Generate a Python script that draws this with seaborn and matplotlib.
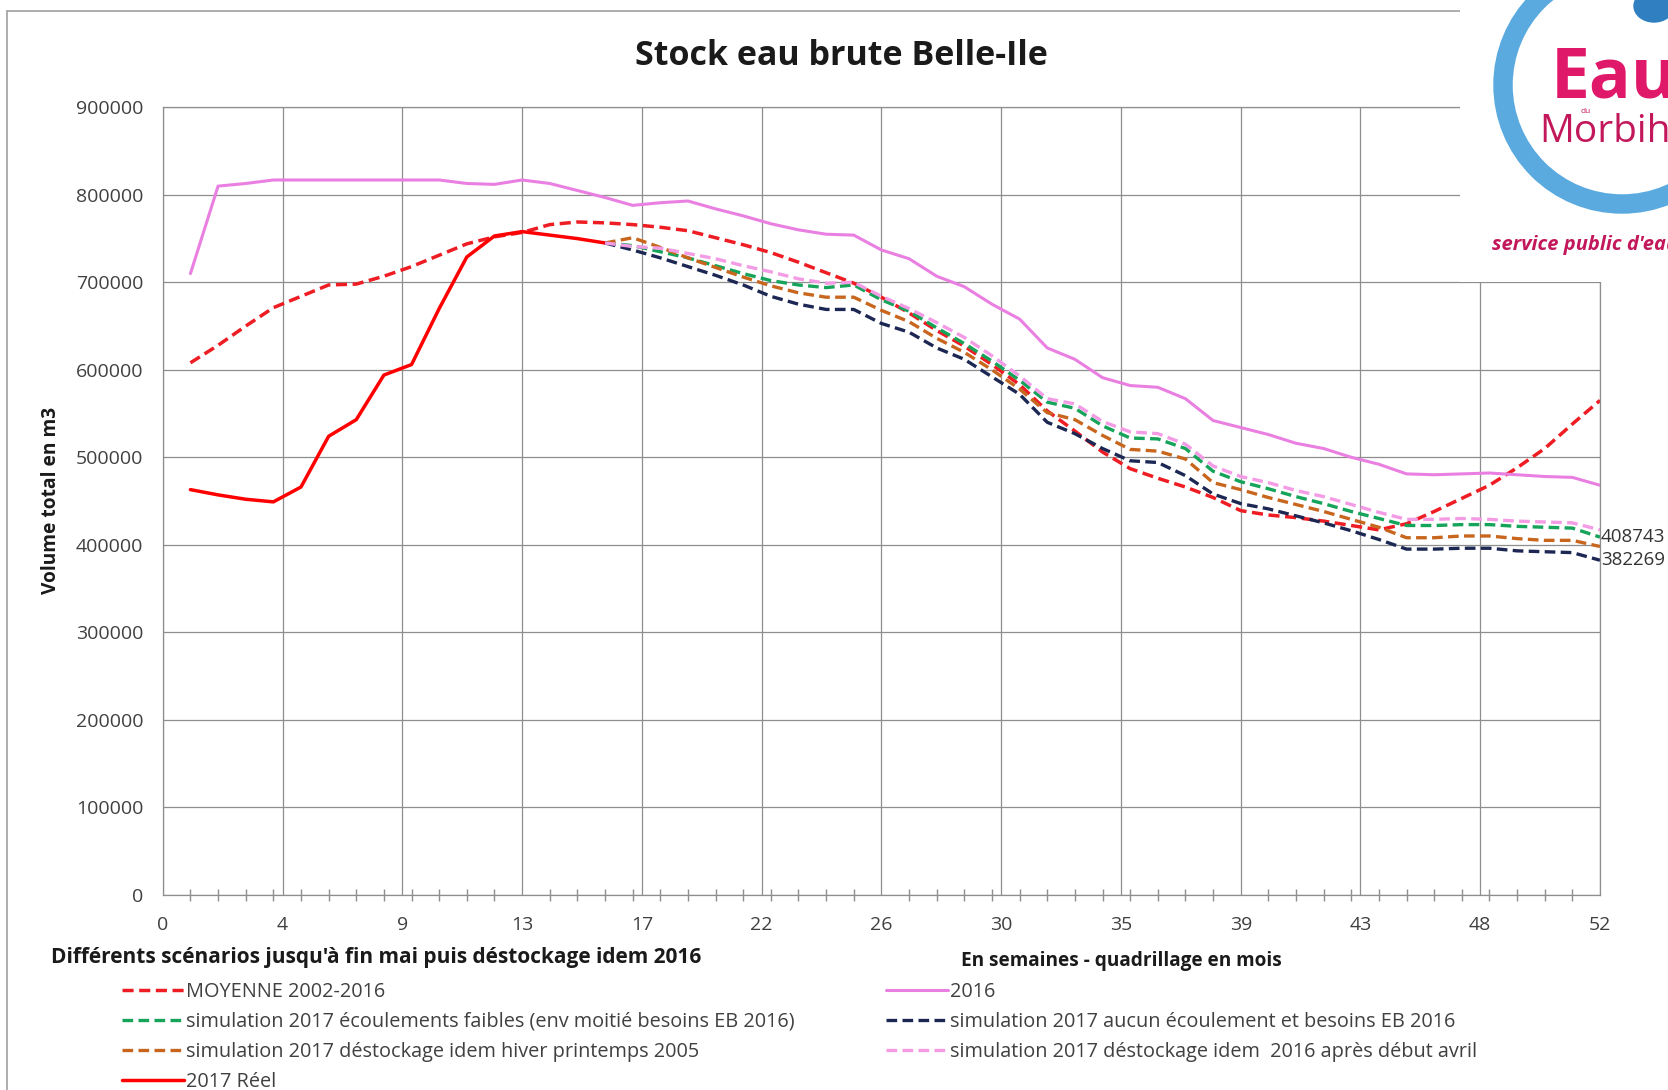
import numpy as np
import seaborn as sns
import matplotlib.pyplot as plt
from matplotlib.patches import Circle, Ellipse, Rectangle
from matplotlib.lines import Line2D
from matplotlib.ticker import FixedLocator, MultipleLocator, FuncFormatter

# volumes en milliers de m3
semaines = np.arange(1, 53)
moyenne_2002_2016 = [608, 628, 650, 671, 684, 697, 698, 707, 718, 731,
                     744, 752, 757, 766, 769, 768, 766, 763, 759, 751,
                     743, 734, 723, 711, 699, 683, 665, 645, 627, 606,
                     583, 553, 530, 506, 487, 476, 466, 454, 439, 434,
                     431, 427, 422, 417, 424, 438, 453, 468, 488, 510,
                     538, 565]
stock_2016 = [710, 810, 813, 817, 817, 817, 817, 817, 817, 817,
              813, 812, 817, 813, 805, 797, 788, 791, 793, 784,
              776, 767, 760, 755, 754, 737, 727, 707, 695, 675,
              658, 625, 612, 591, 582, 580, 567, 542, 534, 526,
              516, 510, 500, 492, 481, 480, 481, 482, 480, 478,
              477, 468]

semaines_reel = np.arange(1, 17)
reel_2017 = [463, 457, 452, 449, 466, 524, 543, 594, 606, 670,
             729, 753, 758, 754, 750, 745]

semaines_sim = np.arange(16, 53)
sim_faibles = [745, 742, 735, 728, 719, 710, 702, 697, 694, 697,
               680, 667, 648, 630, 610, 588, 563, 556, 536, 522,
               521, 510, 484, 472, 464, 455, 447, 438, 430, 422,
               422, 423, 423, 421, 420, 419, 408.743]
sim_aucun = [745, 737, 728, 718, 708, 697, 684, 675, 669, 669,
             653, 643, 625, 612, 592, 572, 540, 527, 510, 496,
             494, 479, 458, 447, 441, 433, 425, 416, 406, 395,
             395, 396, 396, 393, 392, 391, 382.269]
sim_2005 = [745, 751, 740, 728, 717, 706, 696, 688, 683, 683,
            668, 655, 636, 620, 600, 578, 551, 543, 525, 509,
            507, 498, 471, 463, 454, 446, 438, 429, 420, 408,
            408, 410, 410, 407, 405, 405, 398]
sim_idem_2016 = [745, 741, 739, 733, 727, 719, 712, 704, 699, 700,
                 684, 670, 654, 637, 616, 593, 567, 561, 541, 529,
                 527, 515, 490, 478, 471, 462, 455, 446, 437, 429,
                 429, 430, 429, 427, 426, 425, 417]

# quadrillage en mois
mois_ticks = [52 * k / 12 for k in range(13)]
mois_labels = [str(int(round(t))) for t in mois_ticks]

sns.set_style('white')
plt.rcParams['font.family'] = ['Open Sans', 'DejaVu Sans']

W, H = 1668, 1090
fig = plt.figure(figsize=(W / 100, H / 100), dpi=100)
fig.patch.set_facecolor('white')
ax = fig.add_axes([162.8 / W, 1 - 894.6 / H, (1600 - 162.8) / W, (894.6 - 107.4) / H])

dash = (0, (3.2, 1.6))
series = [
    (semaines, moyenne_2002_2016, 'MOYENNE 2002-2016', '#EE1D23', dash, 2.5),
    (semaines_sim, sim_faibles, 'simulation 2017 écoulements faibles (env moitié besoins EB 2016)', '#16A35A', dash, 2.4),
    (semaines_sim, sim_2005, 'simulation 2017 déstockage idem hiver printemps 2005', '#C8661E', dash, 2.4),
    (semaines_reel, reel_2017, '2017 Réel', '#FF0000', '-', 2.5),
    (semaines, stock_2016, '2016', '#EA7FE2', '-', 2.2),
    (semaines_sim, sim_aucun, 'simulation 2017 aucun écoulement et besoins EB 2016', '#1C2753', dash, 2.4),
    (semaines_sim, sim_idem_2016, 'simulation 2017 déstockage idem  2016 après début avril', '#F49BE6', dash, 2.4),
]
for x, y, label, color, ls, lw in series:
    sns.lineplot(x=x, y=np.array(y) * 1000, ax=ax, color=color, linestyle=ls,
                 lw=lw, label=label, legend=False)

# valeurs en fin d'annee
for y in [sim_faibles, sim_aucun]:
    v = y[-1] * 1000
    ax.annotate(f"{int(round(v))}", xy=(52, v), xytext=(0.5, 0), textcoords='offset points',
                ha='left', va='center', fontsize=13.5, color='#333333', annotation_clip=False)

grid_col = '#8E8E8E'
ax.set_xlim(0, 52)
ax.set_ylim(0, 900000)
ax.xaxis.set_major_locator(FixedLocator(mois_ticks))
ax.set_xticklabels(mois_labels)
ax.xaxis.set_minor_locator(MultipleLocator(1))
ax.yaxis.set_major_locator(MultipleLocator(100000))
ax.yaxis.set_major_formatter(FuncFormatter(lambda v, p: f"{int(v)}"))
ax.tick_params(axis='x', which='major', length=0, pad=15.5, labelsize=14, labelcolor='#404040')
ax.tick_params(axis='x', which='minor', length=8, width=1, direction='inout', color=grid_col, bottom=True)
ax.tick_params(axis='y', which='major', length=0, pad=14, labelsize=14, labelcolor='#404040')
ax.grid(True, which='major', color=grid_col, lw=0.9)
for s in ax.spines.values():
    s.set_color(grid_col)
    s.set_linewidth(0.9)
ax.set_xlabel('')
ax.set_ylabel('')

fig.text(841 / W, 1 - 65 / H, 'Stock eau brute Belle-Ile', ha='center', va='baseline',
         fontsize=24.5, fontweight='bold', color='#1A1A1A')
fig.text(51 / W, 1 - 500 / H, 'Volume total en m3', rotation=90, ha='center', va='center',
         fontsize=13.8, fontweight='bold', color='#1A1A1A')
fig.text(51 / W, 1 - 958 / H, "Différents scénarios jusqu'à fin mai puis déstockage idem 2016",
         ha='left', va='center', fontsize=15, fontweight='bold', color='#1A1A1A')
fig.text(961 / W, 1 - 961 / H, 'En semaines - quadrillage en mois',
         ha='left', va='center', fontsize=13.7, fontweight='bold', color='#1A1A1A')

handles = ax.get_lines()[:7]
labels = [h.get_label() for h in handles]
leg_kw = dict(loc='upper left', frameon=False, fontsize=14.3, handlelength=3.1,
              handletextpad=0.1, labelspacing=0.5, borderpad=0, borderaxespad=0,
              labelcolor='#404040')
fig.legend(handles[:4], labels[:4], bbox_to_anchor=(122 / W, 1 - 982 / H), **leg_kw)
fig.legend(handles[4:], labels[4:], bbox_to_anchor=(886 / W, 1 - 982 / H), **leg_kw)

# cadre du graphique
fig.add_artist(Line2D([7 / W, 7 / W], [0, 1 - 11 / H], transform=fig.transFigure, color='#A0A0A0', lw=1.2))
fig.add_artist(Line2D([7 / W, 1460 / W], [1 - 11 / H, 1 - 11 / H], transform=fig.transFigure, color='#A0A0A0', lw=1.2))

# logo Eau du Morbihan
lax = fig.add_axes([1460 / W, 1 - 282 / H, 208 / W, 282 / H], zorder=5)
lax.set_xlim(0, 208)
lax.set_ylim(282, 0)
lax.axis('off')
lax.add_patch(Rectangle((0, 0), 208, 282, color='white', zorder=0))
lax.add_patch(Circle((162, 85), 119, fill=False, lw=14, color='#5AAAE0', zorder=1))
lax.add_patch(Ellipse((194, 6), 40, 32, color='#2F7FC1', zorder=2))
lax.text(91, 98, 'Eau', fontsize=50, fontweight='bold', color='#E0186A', ha='left',
         va='baseline', clip_on=True, zorder=3)
lax.text(126, 113, 'du', fontsize=6, color='#C2185B', ha='center', clip_on=True, zorder=3)
lax.text(79, 142, 'Morbihan', fontsize=28, color='#C2185B', ha='left', va='baseline',
         clip_on=True, zorder=3)
lax.text(32, 245, "service public d'eau", fontsize=14.5, fontweight='bold', fontstyle='italic',
         color='#C2185B', ha='left', va='center', clip_on=True, zorder=3)

fig.savefig('out.png', dpi=100)
